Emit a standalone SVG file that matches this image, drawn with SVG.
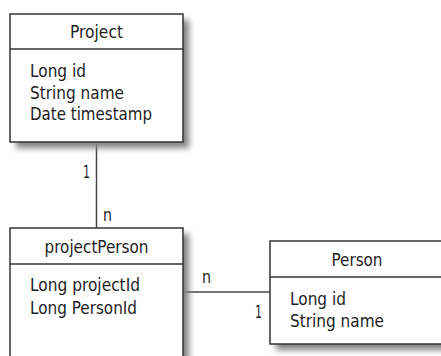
<svg xmlns="http://www.w3.org/2000/svg" width="441" height="356" viewBox="0 0 441 356">
<defs>
<filter id="sh" x="-20%" y="-20%" width="140%" height="140%">
<feGaussianBlur stdDeviation="3"/>
</filter>
<style>
.box{fill:#fff;stroke:#333;stroke-width:1.5}
.shadow{fill:#808080;filter:url(#sh)}
.sep{stroke:#333;stroke-width:1.5}
.conn{stroke:#444;stroke-width:1.5;fill:none}
text{font-family:"DejaVu Sans",sans-serif;font-stretch:condensed;font-size:18px;fill:#1e1e1e}
.title{text-anchor:middle}
</style>
</defs>
<rect width="441" height="356" fill="#fff"/>
<g id="connectors">
<line class="conn" x1="96.5" y1="142" x2="96.5" y2="228"/>
<line class="conn" x1="183" y1="292" x2="270" y2="292"/>
<text x="83" y="178" textLength="7" lengthAdjust="spacingAndGlyphs">1</text>
<text x="103" y="221" textLength="9" lengthAdjust="spacingAndGlyphs">n</text>
<text x="202" y="283" textLength="9" lengthAdjust="spacingAndGlyphs">n</text>
<text x="255" y="318" textLength="7" lengthAdjust="spacingAndGlyphs">1</text>
</g>
<g id="project">
<rect class="shadow" x="16" y="20" width="173" height="128"/>
<rect class="box" x="10" y="14" width="173" height="128"/>
<line class="sep" x1="10" y1="49" x2="183" y2="49"/>
<text class="title" x="96.5" y="38" textLength="53" lengthAdjust="spacingAndGlyphs">Project</text>
<text x="30" y="77" textLength="56" lengthAdjust="spacingAndGlyphs">Long id</text>
<text x="30" y="98.5" textLength="94" lengthAdjust="spacingAndGlyphs">String name</text>
<text x="30" y="120" textLength="122" lengthAdjust="spacingAndGlyphs">Date timestamp</text>
</g>
<g id="projectPerson">
<rect class="shadow" x="16" y="234" width="173" height="140"/>
<rect class="box" x="10" y="228" width="173" height="140"/>
<line class="sep" x1="10" y1="264" x2="183" y2="264"/>
<text class="title" x="96.5" y="253" textLength="104" lengthAdjust="spacingAndGlyphs">projectPerson</text>
<text x="30" y="291" textLength="110" lengthAdjust="spacingAndGlyphs">Long projectId</text>
<text x="30" y="314" textLength="107" lengthAdjust="spacingAndGlyphs">Long PersonId</text>
</g>
<g id="person">
<rect class="shadow" x="276" y="247" width="180" height="103"/>
<rect class="box" x="270" y="241" width="180" height="103"/>
<line class="sep" x1="270" y1="277" x2="450" y2="277"/>
<text class="title" x="357" y="266" textLength="51" lengthAdjust="spacingAndGlyphs">Person</text>
<text x="290" y="305" textLength="56" lengthAdjust="spacingAndGlyphs">Long id</text>
<text x="290" y="327" textLength="94" lengthAdjust="spacingAndGlyphs">String name</text>
</g>
</svg>
